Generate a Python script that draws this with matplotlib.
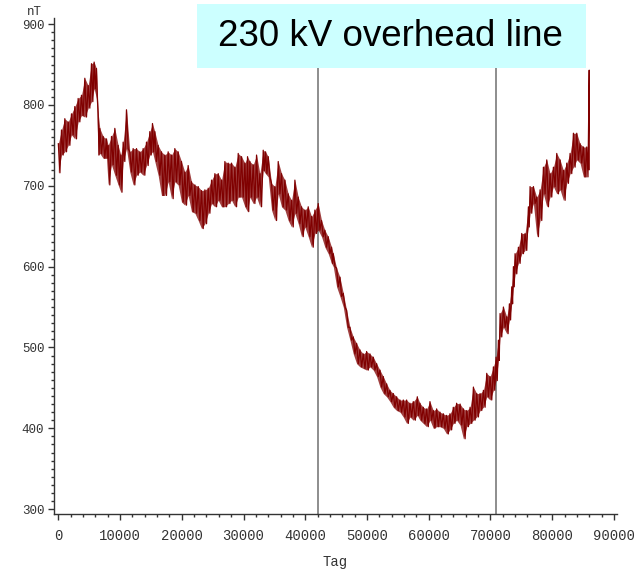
import matplotlib
matplotlib.use("Agg")
import matplotlib.pyplot as plt
from matplotlib.patches import Rectangle
from matplotlib.ticker import MultipleLocator
import numpy as np

# ── 데이터 (그림에서 읽은 값: 각 Tag 위치의 상단/하단 포락선, nT) ──────────
TAG = [
    0, 510, 1050, 1600, 2130, 2670, 3210, 3750, 4290, 4830,
    5370, 5800, 6180, 6450, 6720, 7260, 7800, 8070, 8610, 9150,
    9690, 10120, 10500, 11040, 11580, 12120, 12660, 13200, 13740, 14280,
    14820, 15250, 15630, 16170, 16710, 17250, 17790, 18330, 18870, 19410,
    19950, 20490, 21030, 21570, 22120, 22660, 23200, 23740, 24280, 24820,
    25360, 25900, 26440, 26980, 27520, 28060, 28600, 29140, 29680, 30220,
    30650, 31030, 31570, 32110, 32650, 33190, 33570, 34000, 34540, 35080,
    35620, 36160, 36700, 37240, 37780, 38320, 38860, 39400, 39940, 40480,
    41020, 41560, 42100, 42640, 43180, 43720, 44260, 44540, 45080, 45620,
    46160, 46700, 47240, 47780, 48320, 48860, 49400, 49940, 50480, 51020,
    51560, 52100, 52640, 53180, 53720, 54260, 54800, 55340, 55880, 56420,
    56960, 57500, 58150, 58580, 59120, 59660, 60200, 60740, 61280, 61820,
    62360, 62900, 63440, 63980, 64520, 65080, 65620, 66160, 66700, 67240,
    67780, 68320, 68860, 69400, 69940, 70480, 70910, 71290, 71560, 72100,
    72640, 73070, 73450, 73720, 73990, 74530, 75070, 75610, 76150, 76420,
    76960, 77500, 78040, 78580, 79120, 79660, 80200, 80740, 81280, 81820,
    82360, 82900, 83440, 83980, 84520, 85060, 85600, 86000,
]
HI = [
    752, 769, 783, 779, 789, 798, 808, 812, 833, 824,
    851, 853, 845, 790, 771, 761, 758, 750, 761, 771,
    750, 738, 754, 794, 742, 746, 746, 742, 746, 754,
    767, 777, 767, 750, 742, 738, 742, 738, 746, 742,
    730, 717, 725, 705, 701, 699, 694, 695, 697, 707,
    715, 715, 707, 730, 728, 728, 723, 740, 736, 728,
    736, 730, 726, 738, 715, 744, 742, 736, 703, 699,
    730, 715, 707, 690, 682, 707, 686, 674, 670, 674,
    662, 670, 678, 657, 645, 637, 624, 616, 598, 587,
    567, 546, 525, 513, 505, 497, 492, 495, 492, 488,
    480, 472, 464, 455, 447, 443, 439, 435, 435, 435,
    431, 433, 439, 431, 426, 424, 433, 422, 424, 420,
    418, 416, 418, 426, 431, 430, 424, 422, 426, 451,
    443, 443, 447, 468, 464, 476, 488, 509, 542, 550,
    538, 554, 575, 600, 616, 624, 641, 641, 674, 699,
    699, 686, 695, 723, 732, 715, 723, 740, 732, 719,
    728, 740, 765, 765, 752, 748, 748, 843,
]
LO = [
    716, 738, 742, 750, 763, 758, 779, 787, 785, 796,
    804, 820, 808, 738, 740, 734, 734, 701, 726, 713,
    701, 692, 730, 746, 717, 701, 713, 717, 713, 725,
    738, 742, 730, 713, 688, 688, 705, 684, 705, 701,
    680, 676, 688, 668, 666, 657, 647, 653, 666, 678,
    674, 682, 674, 674, 678, 682, 674, 686, 686, 674,
    668, 686, 678, 686, 674, 719, 715, 711, 670, 657,
    690, 674, 670, 657, 649, 666, 653, 637, 649, 637,
    624, 641, 645, 637, 624, 616, 604, 600, 575, 563,
    550, 525, 509, 492, 480, 476, 474, 472, 476, 472,
    464, 451, 443, 439, 433, 426, 422, 420, 414, 406,
    414, 410, 416, 410, 406, 402, 410, 400, 402, 402,
    400, 393, 398, 406, 410, 404, 387, 402, 406, 410,
    414, 422, 426, 439, 435, 447, 459, 484, 513, 525,
    517, 534, 554, 575, 591, 604, 616, 620, 649, 666,
    678, 637, 657, 690, 674, 686, 699, 690, 695, 682,
    703, 715, 723, 732, 728, 711, 711, 720,
]

MARKERS   = [42100, 70900]          # 세로 기준선 (Tag)
X_TICKS   = list(range(0, 90001, 10000))
Y_TICKS   = [300, 400, 500, 600, 700, 800, 900]
TITLE     = "230 kV overhead line"

# ── 스타일 ────────────────────────────────────────────────────────────────
CURVE_COLOR = "#800000"
AXIS_COLOR  = "#333333"
TICK_FONT   = ["Liberation Mono", "DejaVu Sans Mono"]

fig = plt.figure(figsize=(6.37, 5.72), dpi=100)
ax = fig.add_axes([0.0848, 0.1014, 0.8838, 0.8671])

tag = np.asarray(TAG, dtype=float)
hi = np.asarray(HI, dtype=float)
lo = np.asarray(LO, dtype=float)

# 노이즈 띠: 옅은 채움 + 상단(표본점)과 하단(다음 표본 사이 중간)을 오가는 지그재그
ax.fill_between(tag[:-1], lo[:-1], hi[:-1], color=CURVE_COLOR, alpha=0.75,
                lw=0, zorder=2)
mid = np.append((tag[:-1] + tag[1:]) / 2, tag[-1])
zig_x = np.column_stack([tag, mid]).ravel()
zig_y = np.column_stack([hi, lo]).ravel()
ax.plot(zig_x, zig_y, color=CURVE_COLOR, lw=0.9, zorder=3)

for m in MARKERS:
    ax.axvline(m, color="#7a7a7a", lw=1.2, zorder=1)

ax.set_xlim(-700, 90500)
ax.set_ylim(294, 907.5)

for side in ("top", "right"):
    ax.spines[side].set_visible(False)
for side in ("left", "bottom"):
    ax.spines[side].set_color(AXIS_COLOR)
    ax.spines[side].set_linewidth(1.0)

ax.set_xticks(X_TICKS)
ax.set_yticks(Y_TICKS)
ax.xaxis.set_minor_locator(MultipleLocator(2000))
ax.yaxis.set_minor_locator(MultipleLocator(10))
ax.tick_params(which="major", length=4, width=1, color=AXIS_COLOR, direction="out")
ax.tick_params(which="minor", length=2, width=1, color=AXIS_COLOR, direction="out")
ax.tick_params(axis="x", which="major", pad=7)
ax.tick_params(axis="y", which="major", pad=3)

for lab in ax.get_xticklabels():
    lab.set_family(TICK_FONT)
    lab.set_fontsize(10)
    lab.set_color(AXIS_COLOR)
for lab in ax.get_yticklabels():
    lab.set_family(TICK_FONT)
    lab.set_fontsize(9)
    lab.set_color(AXIS_COLOR)

ax.set_xlabel("Tag", family=TICK_FONT, fontsize=10, color=AXIS_COLOR, va="center")
ax.xaxis.set_label_coords(0.5, -0.097)
fig.text(42 / 637, 1 - 12 / 572, "nT", family=TICK_FONT, fontsize=9,
         color=AXIS_COLOR, ha="right", va="center")

# 제목 박스 (그림 좌표)
fig.patches.append(Rectangle((197 / 637, 1 - 68 / 572), 389 / 637, 64 / 572,
                             transform=fig.transFigure, facecolor="#ccffff",
                             edgecolor="none", zorder=5))
fig.text(390 / 637, 1 - 37 / 572, TITLE, family=["Liberation Sans", "DejaVu Sans"],
         fontsize=26.5, color="black", ha="center", va="center", zorder=6)

fig.savefig("out.png", dpi=100)
